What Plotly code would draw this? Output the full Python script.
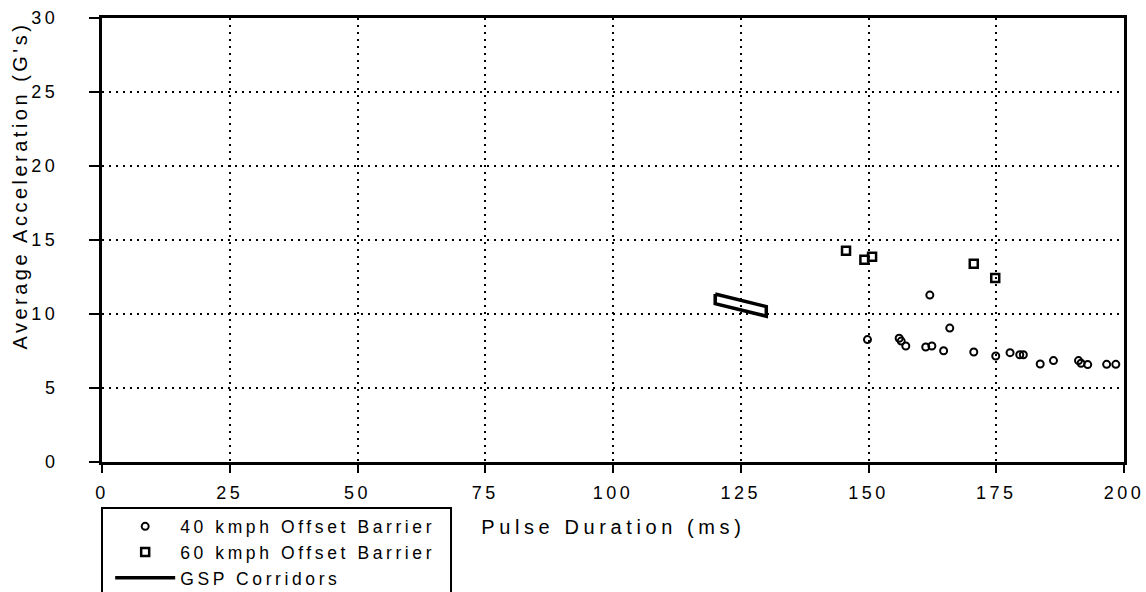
import plotly.graph_objects as go

# 40 kmph Offset Barrier
x40 = [149.8, 156.0, 156.4, 157.3, 161.2, 162.0, 162.4, 164.7, 165.9, 170.6,
       174.9, 177.7, 179.6, 180.3, 183.6, 186.2, 191.1, 191.6, 192.9, 196.6, 198.4]
y40 = [8.27, 8.36, 8.17, 7.84, 7.77, 11.28, 7.84, 7.52, 9.05, 7.43,
       7.16, 7.39, 7.25, 7.25, 6.62, 6.85, 6.85, 6.67, 6.58, 6.6, 6.6]
# 60 kmph Offset Barrier
x60 = [145.6, 149.2, 150.7, 170.6, 174.8]
y60 = [14.28, 13.67, 13.87, 13.4, 12.43]
# GSP corridor outline
corr_x = [120, 130, 130, 120, 120]
corr_y = [11.35, 10.5, 9.85, 10.7, 11.35]

tick_vals = [0, 25, 50, 75, 100, 125, 150, 175, 200]
ytick_vals = [0, 5, 10, 15, 20, 25, 30]

FONT = "Liberation Sans, Arial, sans-serif"

fig = go.Figure()
fig.add_trace(go.Scatter(x=x40, y=y40, mode="markers", name="40 kmph Offset Barrier",
                         marker=dict(symbol="circle-open", size=7, color="black",
                                     line=dict(width=2, color="black"))))
fig.add_trace(go.Scatter(x=x60, y=y60, mode="markers", name="60 kmph Offset Barrier",
                         marker=dict(symbol="square-open", size=8, color="black",
                                     line=dict(width=2.5, color="black"))))
fig.add_trace(go.Scatter(x=corr_x, y=corr_y, mode="lines", name="GSP Corridors",
                         line=dict(color="black", width=3.5)))

axis_common = dict(showline=True, linecolor="black", linewidth=3, mirror=True,
                   ticks="outside", tickcolor="black", tickwidth=2,
                   showgrid=True, gridcolor="black", gridwidth=2, griddash="2px,5px",
                   zeroline=False, tickfont=dict(family=FONT, size=18, color="black"))

fig.update_xaxes(range=[0, 200], tickvals=tick_vals, ticklen=8,
                 ticklabelstandoff=4, **axis_common)
fig.update_yaxes(range=[0, 30], tickvals=ytick_vals, ticklen=10,
                 ticklabelstandoff=27, **axis_common)

fig.update_layout(
    width=1146, height=592,
    margin=dict(l=102, r=22, t=18, b=130, autoexpand=False),
    paper_bgcolor="white", plot_bgcolor="white",
    font=dict(family=FONT, size=18, color="black"),
    showlegend=True,
    legend=dict(x=0.008, y=-0.1047, xanchor="left", yanchor="top",
                bgcolor="rgba(0,0,0,0)", borderwidth=0, itemwidth=60,
                font=dict(family=FONT, size=17.5, color="black"), tracegroupgap=0),
    annotations=[
        dict(text="Pulse Duration (ms)", x=0.5, y=-0.1464, xref="paper", yref="paper",
             xanchor="center", yanchor="middle", showarrow=False,
             font=dict(family=FONT, size=20, color="black")),
        dict(text="Average Acceleration (G's)", x=-0.0802, y=0.6216, xref="paper", yref="paper",
             xanchor="center", yanchor="middle", textangle=-90, showarrow=False,
             font=dict(family=FONT, size=20, color="black")),
    ],
    shapes=[
        dict(type="rect", xref="paper", yref="paper", x0=0.0, x1=0.3415, y0=-0.1036, y1=-0.45,
             line=dict(color="black", width=2), fillcolor="rgba(0,0,0,0)", layer="above"),
    ],
)

post = """
var gd = document.getElementById('{plot_id}');
function spacing(){
  gd.querySelectorAll('g.xtick text, g.ytick text').forEach(function(e){e.style.letterSpacing='3.5px';});
  gd.querySelectorAll('text.legendtext').forEach(function(e){e.style.letterSpacing='3.6px';});
  gd.querySelectorAll('g.legend [clip-path], g.legend').forEach(function(e){e.removeAttribute('clip-path');});
  var a = gd.querySelectorAll('g.annotation text');
  if (a.length > 0) a[0].style.letterSpacing = '4.6px';
  if (a.length > 1) a[1].style.letterSpacing = '3.5px';
}
spacing();
setTimeout(spacing, 0);
gd.on && gd.on('plotly_afterplot', spacing);
"""

fig.write_html("out.html", post_script=post)
